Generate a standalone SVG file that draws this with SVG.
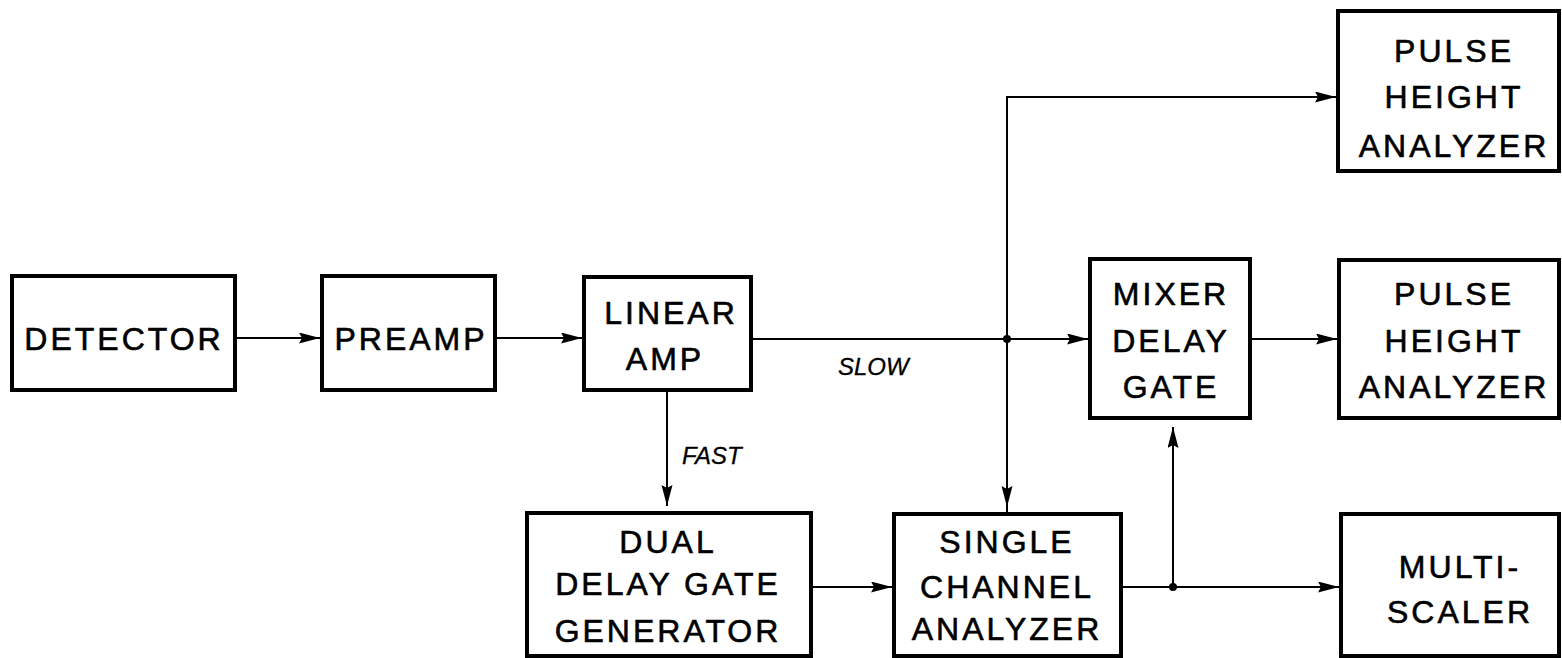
<svg xmlns="http://www.w3.org/2000/svg" width="1562" height="658" viewBox="0 0 1562 658">
<defs>
<marker id="arr" markerUnits="userSpaceOnUse" markerWidth="22" markerHeight="12" refX="21" refY="5.5" orient="auto">
<path d="M0,0 L21,5.5 L0,11 L3,5.5 Z" fill="#000"/>
</marker>
<style>
.box{fill:#fff;stroke:#000;stroke-width:4}
.t{font-family:"Liberation Sans",Arial,sans-serif;font-size:32px;letter-spacing:3px;text-anchor:middle;fill:#000;stroke:#000;stroke-width:0.6px}
.lbl{font-family:"Liberation Sans",Arial,sans-serif;font-size:24px;font-style:italic;fill:#000;stroke:#000;stroke-width:0.3px}
.ln{fill:none;stroke:#000;stroke-width:2}
.a{marker-end:url(#arr)}
</style>
</defs>
<rect width="1562" height="658" fill="#fff"/>
<g id="connectors">
<line class="ln a" x1="237" y1="338" x2="320" y2="338"/>
<line class="ln a" x1="497" y1="338" x2="582" y2="338"/>
<line class="ln a" x1="753" y1="339" x2="1088" y2="339"/>
<polyline class="ln a" points="1007,512 1007,97 1336,97"/>
<line class="ln a" x1="1007" y1="339" x2="1007" y2="507"/>
<line class="ln a" x1="1252" y1="339" x2="1337" y2="339"/>
<line class="ln a" x1="667" y1="392" x2="667" y2="506"/>
<line class="ln a" x1="813" y1="587" x2="892" y2="587"/>
<line class="ln a" x1="1123" y1="587" x2="1339" y2="587"/>
<line class="ln a" x1="1173" y1="587" x2="1173" y2="427"/>
<circle cx="1007" cy="339" r="4" fill="#000"/>
<circle cx="1173" cy="587" r="4" fill="#000"/>
<text class="lbl" x="838" y="375">SLOW</text>
<text class="lbl" x="682" y="464">FAST</text>
</g>
<g id="detector">
<rect class="box" x="12" y="276" width="223" height="114"/>
<text class="t" x="124" y="350">DETECTOR</text>
</g>
<g id="preamp">
<rect class="box" x="322" y="276" width="173" height="114"/>
<text class="t" x="411" y="350">PREAMP</text>
</g>
<g id="linear-amp">
<rect class="box" x="584" y="277" width="167" height="113"/>
<text class="t" x="671" y="324">LINEAR</text>
<text class="t" x="665" y="370">AMP</text>
</g>
<g id="mixer-delay-gate">
<rect class="box" x="1090" y="259" width="160" height="159"/>
<text class="t" x="1171" y="305">MIXER</text>
<text class="t" x="1171" y="352">DELAY</text>
<text class="t" x="1171" y="398">GATE</text>
</g>
<g id="pha-top">
<rect class="box" x="1338" y="11" width="221" height="160"/>
<text class="t" x="1454" y="62">PULSE</text>
<text class="t" x="1454" y="108">HEIGHT</text>
<text class="t" x="1454" y="157">ANALYZER</text>
</g>
<g id="pha-mid">
<rect class="box" x="1339" y="260" width="220" height="158"/>
<text class="t" x="1454" y="305">PULSE</text>
<text class="t" x="1454" y="352">HEIGHT</text>
<text class="t" x="1454" y="398">ANALYZER</text>
</g>
<g id="dual-delay-gate-generator">
<rect class="box" x="527" y="513" width="284" height="143"/>
<text class="t" x="668" y="553">DUAL</text>
<text class="t" x="668" y="595">DELAY GATE</text>
<text class="t" x="668" y="642">GENERATOR</text>
</g>
<g id="single-channel-analyzer">
<rect class="box" x="894" y="514" width="227" height="142"/>
<text class="t" x="1007" y="553">SINGLE</text>
<text class="t" x="1007" y="598">CHANNEL</text>
<text class="t" x="1007" y="640">ANALYZER</text>
</g>
<g id="multi-scaler">
<rect class="box" x="1341" y="514" width="218" height="142"/>
<text class="t" x="1460" y="578">MULTI-</text>
<text class="t" x="1460" y="623">SCALER</text>
</g>
</svg>
